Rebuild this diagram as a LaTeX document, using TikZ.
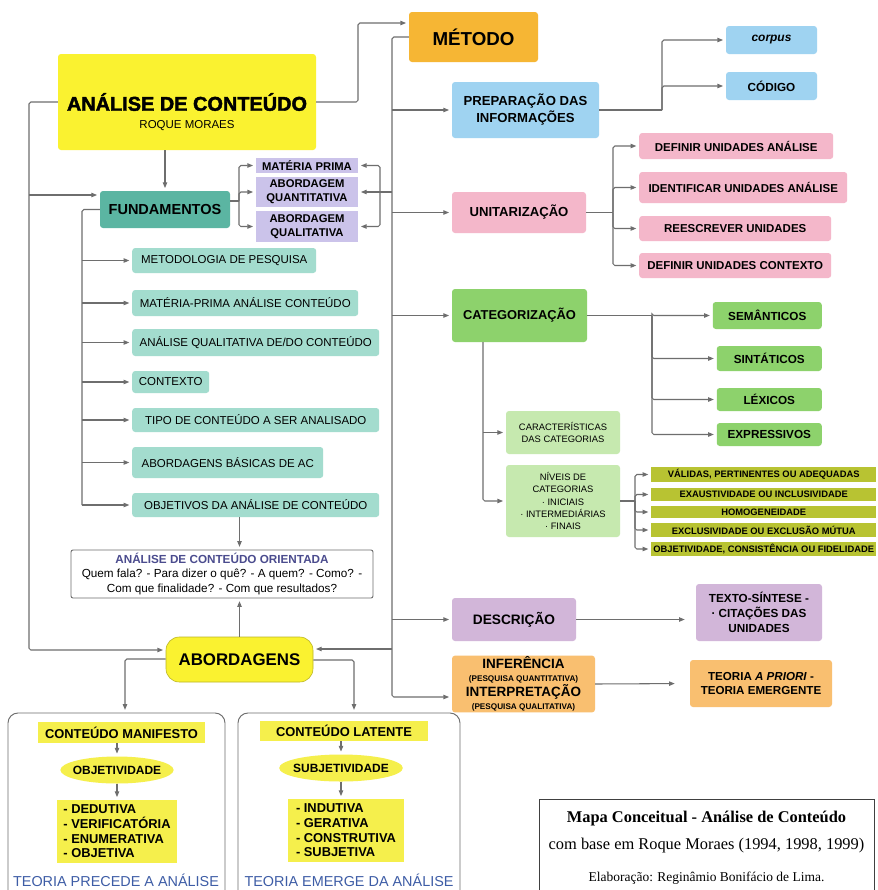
\documentclass[tikz,border=0pt]{standalone}
\usepackage{fontspec}
\setmainfont{Liberation Sans}
\newfontfamily\timesfont{Liberation Serif}
\newfontfamily\heavyfont[FakeBold=2]{Liberation Sans Bold}
\usepackage{tikz}
\usetikzlibrary{calc,arrows.meta,shapes.geometric}
\definecolor{linegray}{HTML}{6E6E6E}
\definecolor{acyellow}{HTML}{FAF230}
\definecolor{panelyellow}{HTML}{F5EF4C}
\definecolor{metorange}{HTML}{F6B634}
\definecolor{inferorange}{HTML}{F9BF70}
\definecolor{prepblue}{HTML}{9FD3F1}
\definecolor{unitpink}{HTML}{F4B7CA}
\definecolor{catgreen}{HTML}{8DD26C}
\definecolor{lightgreen}{HTML}{C6E9AF}
\definecolor{criolive}{HTML}{B8C332}
\definecolor{descpurple}{HTML}{D2B6D9}
\definecolor{fundteal}{HTML}{5BB5A2}
\definecolor{listteal}{HTML}{A3DCCE}
\definecolor{lavender}{HTML}{CBC3EA}
\definecolor{navy}{HTML}{4B4C8E}
\definecolor{theoryblue}{HTML}{3E5DA6}
\newcommand\fsz[2]{\fontsize{#1}{#2}\selectfont}
\tikzset{
  con/.style={draw=linegray, line width=0.9pt, rounded corners=1.5pt},
  arr/.style={con, -{Triangle[length=1.7mm,width=1.3mm]}, shorten >=0.8mm},
  sz/.style 2 args={minimum width=#1*0.3mm, minimum height=#2*0.3mm},
  box/.style={rounded corners=0.9mm, inner sep=1pt, align=center},
  flat/.style={inner sep=0.5pt, align=center},
  item/.style={rounded corners=0.9mm, fill=listteal, anchor=west, font=\fsz{9.8}{12}},
  panel/.style={draw=linegray, line width=0.8pt, rounded corners=3mm},
  oval/.style={ellipse, fill=panelyellow, inner xsep=-3.5pt, inner ysep=0pt, font=\bfseries\fsz{10.2}{12}},
  yitem/.style={flat, fill=panelyellow, font=\bfseries\fsz{11}{13}}
}

\begin{document}
\begin{tikzpicture}[x=0.3mm, y=-0.3mm]
  \fill[white] (0,0) rectangle (878,890);
  \useasboundingbox (0,0) rectangle (878,890);

  % left side
  \node[box, fill=acyellow, sz={258}{96}, font=\heavyfont\fsz{17}{20}] (analise) at (187,102) {ANÁLISE DE CONTEÚDO};
  \node[font=\fsz{9.8}{12}] (roque) at (187,126) {ROQUE MORAES};
  \node[box, fill=metorange, sz={129}{50}, font=\bfseries\fsz{16}{19}] (metodo) at (473.5,37) {MÉTODO};
  \node[box, fill=fundteal, sz={130}{37}, font=\bfseries\fsz{12.4}{14}] (fund) at (165,209.5) {FUNDAMENTOS};

  \node[flat, fill=lavender, sz={102}{15}, font=\bfseries\fsz{9.6}{12}] (mprima) at (307,165.5) {MATÉRIA PRIMA};
  \node[flat, fill=lavender, sz={102}{30}, font=\bfseries\fsz{9.6}{12}] (quant) at (307,192) {ABORDAGEM\\QUANTITATIVA};
  \node[flat, fill=lavender, sz={102}{31}, font=\bfseries\fsz{9.6}{12}] (qual) at (307,226.5) {ABORDAGEM\\QUALITATIVA};

  \coordinate (ft) at (82,209.5);
  \draw[con] (fund.west) -- (ft) -- (82,505);
  \foreach \n/\y/\w/\h/\txt in {
    f1/260.5/184/25/METODOLOGIA DE PESQUISA,
    f2/303/226/26/MATÉRIA-PRIMA ANÁLISE CONTEÚDO,
    f3/342.5/247/27/{ANÁLISE QUALITATIVA DE/DO CONTEÚDO},
    f4/382/77/22/CONTEXTO,
    f5/420/247/24/TIPO DE CONTEÚDO A SER ANALISADO,
    f6/462.5/191/31/ABORDAGENS BÁSICAS DE AC,
    f7/505/247/24/OBJETIVOS DA ANÁLISE DE CONTEÚDO}{
    \node[item, sz={\w}{\h}] (\n) at (132,\y) {\txt};
    \draw[arr] (ft |- \n.west) -- (\n.west);
  }

  \node[draw=linegray, line width=0.8pt, rounded corners=0.6mm, fill=white, sz={302}{48},
        align=center, inner sep=1pt, font=\fsz{10}{12}] (orient) at (222,574)
    {{\bfseries\color{navy}ANÁLISE DE CONTEÚDO ORIENTADA}\\Quem fala? - Para dizer o quê? - A quem? - Como? -\\Com que finalidade? - Com que resultados?};

  \node[box, rounded corners=4mm, fill=acyellow, draw=acyellow!75!black, line width=0.5pt, sz={147}{45},
        font=\bfseries\fsz{14.4}{17}] (abord) at (239.5,659.5) {ABORDAGENS};

  % lower panels
  \node[panel, sz={217}{190}] (pmanif) at (116.5,808) {};
  \node[panel, sz={222}{190}] (plat) at (349,808) {};
  \node[yitem, sz={167}{21}] (manif) at (121.5,732.5) {CONTEÚDO MANIFESTO};
  \node[oval, sz={113}{27}] (objet) at (117,770) {OBJETIVIDADE};
  \node[yitem, sz={120}{63}, align=left, font=\bfseries\fsz{11}{12.5}] (dedut) at (117,831.5)
    {- DEDUTIVA\\- VERIFICATÓRIA\\- ENUMERATIVA\\- OBJETIVA};
  \node[text=theoryblue, font=\fsz{12.3}{14}] (tprec) at (116,880) {TEORIA PRECEDE A ANÁLISE};
  \node[yitem, sz={168}{20}] (latent) at (344,731) {CONTEÚDO LATENTE};
  \node[oval, sz={112}{27}] (subj) at (341,768) {SUBJETIVIDADE};
  \node[yitem, sz={116}{63}, align=left, font=\bfseries\fsz{11}{12.5}] (indut) at (346,830.5)
    {- INDUTIVA\\- GERATIVA\\- CONSTRUTIVA\\- SUBJETIVA};
  \node[text=theoryblue, font=\fsz{12.3}{14}] (temerge) at (349,880) {TEORIA EMERGE DA ANÁLISE};

  \draw[arr] (manif.south -| objet.north) -- (objet.north);
  \draw[arr] (objet.south) -- (objet.south |- dedut.north);
  \draw[arr] (latent.south -| subj.north) -- (subj.north);
  \draw[arr] (subj.south) -- (subj.south |- indut.north);

  % right side
  \node[box, fill=prepblue, sz={147}{56}, font=\bfseries\fsz{11.2}{14.5}] (prep) at (525.5,110) {PREPARAÇÃO DAS\\INFORMAÇÕES};
  \node[box, fill=prepblue, sz={91}{28}, font=\bfseries\itshape\fsz{10.2}{12}] (corpus) at (771.5,40) {corpus};
  \node[box, fill=prepblue, sz={91}{28}, font=\bfseries\fsz{10}{12}] (codigo) at (771.5,86) {CÓDIGO};
  \coordinate (pb) at (662,110);
  \draw[con] (prep.east) -- (pb);
  \draw[arr] (pb) |- (corpus.west);
  \draw[arr] (pb) |- (codigo.west);

  \node[box, fill=unitpink, sz={134}{41}, font=\bfseries\fsz{11.2}{13}] (unit) at (519,212.5) {UNITARIZAÇÃO};
  \coordinate (ub) at (613,212.5);
  \draw[con] (unit.east) -- (ub);
  \foreach \n/\y/\w/\h/\txt in {
    u1/146/194/26/DEFINIR UNIDADES ANÁLISE,
    u2/187.5/208/31/IDENTIFICAR UNIDADES ANÁLISE,
    u3/228.5/192/25/REESCREVER UNIDADES,
    u4/265.5/192/25/DEFINIR UNIDADES CONTEXTO}{
    \node[box, anchor=west, fill=unitpink, sz={\w}{\h}, font=\bfseries\fsz{9.8}{12}] (\n) at (639,\y) {\txt};
    \draw[arr] (ub) |- (\n.west);
  }

  \node[box, fill=catgreen, sz={135}{53}, font=\bfseries\fsz{11}{13}] (categ) at (519.5,315.5) {CATEGORIZAÇÃO};
  \coordinate (cb) at (652,315.5);
  \draw[con] (categ.east) -- (cb);
  \foreach \n/\y/\w/\h/\txt in {
    sem/315.5/109/27/SEMÂNTICOS,
    sin/358.5/105/25/SINTÁTICOS,
    lex/399.5/105/23/LÉXICOS,
    expr/434.5/105/23/EXPRESSIVOS}{
    \node[box, anchor=east, fill=catgreen, sz={\w}{\h}, font=\bfseries\fsz{10}{12}] (\n) at (822,\y) {\txt};
    \draw[arr] (cb) |- (\n.west);
  }

  \node[box, fill=lightgreen, sz={114}{43}, font=\fsz{8}{10}] (carac) at (563,432.5) {CARACTERÍSTICAS\\DAS CATEGORIAS};
  \node[box, fill=lightgreen, sz={114}{72}, font=\fsz{8}{10.6}] (niveis) at (563,501)
    {NÍVEIS DE\\CATEGORIAS\\· INICIAIS\\· INTERMEDIÁRIAS\\· FINAIS};
  \coordinate (cv) at (483,501);
  \draw[arr] (categ.south -| cv) -- (cv) -- (niveis.west);
  \draw[arr] (cv |- carac.west) -- (carac.west);

  \coordinate (nb) at (635,501);
  \draw[con] (niveis.east) -- (nb);
  \foreach \n/\y/\h/\txt in {
    o1/474.5/15/{VÁLIDAS, PERTINENTES OU ADEQUADAS},
    o2/494.5/13/EXAUSTIVIDADE OU INCLUSIVIDADE,
    o3/512/12/HOMOGENEIDADE,
    o4/530/14/EXCLUSIVIDADE OU EXCLUSÃO MÚTUA,
    o5/549/14/{OBJETIVIDADE, CONSISTÊNCIA OU FIDELIDADE}}{
    \node[flat, anchor=west, fill=criolive, sz={225}{\h}, font=\bfseries\fsz{8}{9}] (\n) at (651,\y) {\txt};
    \draw[arr] (nb) |- (\n.west);
  }

  \node[box, fill=descpurple, sz={124}{43}, font=\bfseries\fsz{11.7}{14}] (desc) at (514,619.5) {DESCRIÇÃO};
  \node[box, fill=descpurple, sz={126}{57}, font=\bfseries\fsz{10}{12.8}] (texto) at (759,612.5)
    {TEXTO-SÍNTESE -\\· CITAÇÕES DAS\\UNIDADES};
  \draw[arr, shorten >=3.3mm] (desc.east) -- (desc.east -| texto.west);

  \node[box, fill=inferorange, sz={143}{54}, font=\bfseries\fsz{11.5}{11}] (infer) at (523.5,684)
    {INFERÊNCIA\\{\fsz{7}{8}(PESQUISA QUANTITATIVA)}\\INTERPRETAÇÃO\\{\fsz{7}{8}(PESQUISA QUALITATIVA)}};
  \node[box, fill=inferorange, sz={142}{47}, font=\bfseries\fsz{9.9}{12.5}] (teoria) at (761,683.5)
    {TEORIA \textit{A PRIORI} -\\TEORIA EMERGENTE};
  \draw[arr, shorten >=4.5mm] (infer.east) -- (teoria.west);

  % trunks
  \coordinate (am) at (358,23);
  \draw[arr] (analise.east) -| (am) -- (am -| metodo.west);
  \coordinate (mt) at (392,37);
  \coordinate (mb) at (392,697);
  \draw[arr] (metodo.west) -- (mt) -- (mb) -- (mb -| infer.west);
  \foreach \n in {prep,unit,categ,desc}
    \draw[arr] (mt |- \n.west) -- (\n.west);
  \coordinate (rb) at (380,192);
  \draw[arr] (mt |- rb) -- (rb -| quant.east);
  \draw[arr] (rb) |- (mprima.east);
  \draw[arr] (rb) |- (qual.east);
  \coordinate (ar) at (392,649);
  \draw[arr] (ar) -- (ar -| abord.east);

  \coordinate (lt) at (29,102);
  \coordinate (lw) at (29,650);
  \draw[arr] (analise.west) -- (lt) -- (lw) -- (lw -| abord.west);
  \coordinate (lf) at (29,195);
  \draw[arr] (lf) -- (lf -| fund.west);

  \coordinate (lb) at (239,201);
  \draw[con] (fund.east |- lb) -- (lb);
  \foreach \n in {mprima,quant,qual}
    \draw[arr] (lb) |- (\n.west);

  \draw[arr] (analise.south -| fund.north) -- (fund.north);
  \draw[arr] (f7.south -| abord.north) -- (abord.north |- orient.north);
  \draw[arr] (abord.north) -- (abord.north |- orient.south);

  \coordinate (al) at (125,659);
  \coordinate (aw) at (354,660);
  \draw[arr] (abord.west |- al) -- (al) -- (al |- pmanif.north);
  \draw[arr] (abord.east |- aw) -- (aw) -- (aw |- plat.north);

  % credits
  \node[draw=black!75, line width=0.6pt, fill=white, sz={335}{101}] (cred) at (706.5,849.5) {};
  \node[font=\timesfont\bfseries\fsz{14}{16}] (credt) at (706.5,819) {Mapa Conceitual - Análise de Conteúdo};
  \node[font=\timesfont\fsz{14}{16}] (credb) at (706.5,846) {com base em Roque Moraes (1994, 1998, 1999)};
  \node[font=\timesfont\fsz{11.5}{14}] (crede) at (706.5,878) {Elaboração: Reginâmio Bonifácio de Lima.};
\end{tikzpicture}
\end{document}
